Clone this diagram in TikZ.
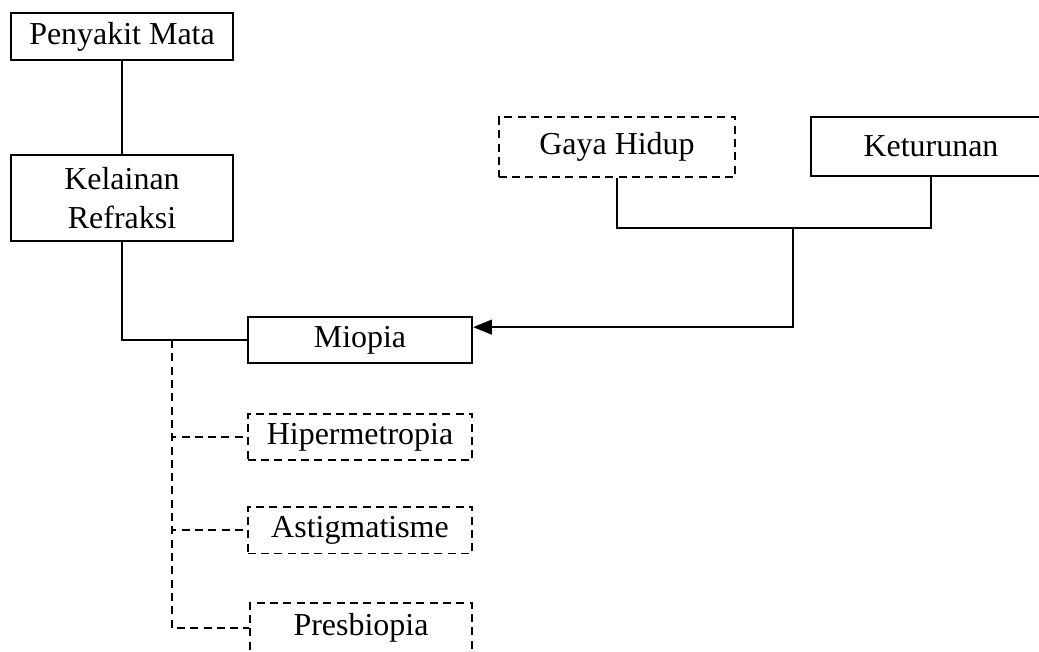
\documentclass[tikz,border=0pt]{standalone}
\usepackage{fontspec}
\setmainfont{Liberation Serif}
\usepackage{tikz}
\usetikzlibrary{arrows.meta,positioning}

\begin{document}
\begin{tikzpicture}[
    x=0.0132cm, y=-0.0132cm,
    line width=0.75pt,
    box/.style={rectangle, draw, line width=0.75pt, minimum width=2.93cm, minimum height=0.62cm, inner sep=0pt, align=center, font=\fontsize{12}{14.5}\selectfont},
    dbox/.style={box, dashed, dash pattern=on 3pt off 2pt},
    link/.style={draw, line width=0.75pt},
    dlink/.style={link, dash pattern=on 3pt off 2pt},
]
\useasboundingbox (0,0) rectangle (1039,651);
\clip (0,0) rectangle (1039,651);

% Left column
\node[box] (mata) at (122,36.5) {Penyakit Mata};
\node[box, minimum height=1.135cm] (refraksi) at (122,198) {Kelainan\\Refraksi};

% Kinds of refraction error
\node[box, minimum width=2.96cm, minimum height=0.61cm] (miopia) at (360,340) {Miopia};
\node[dbox, minimum width=2.96cm] (hiper) at (360,437) {Hipermetropia};
\node[dbox, minimum width=2.96cm] (astig) at (360,530) {Astigmatisme};
\node[dbox, minimum width=2.93cm, minimum height=0.66cm] (presbi) at (361,628) {Presbiopia};

% Causes
\node[dbox, minimum width=3.12cm, minimum height=0.79cm] (gaya) at (617,147) {Gaya Hidup};
\node[box, minimum width=3.16cm, minimum height=0.78cm] (turun) at (931,146.5) {Keturunan};

% Connectors
\draw[link] (mata) -- (refraksi);
\draw[link] (refraksi.south) |- (miopia.west);
\coordinate (cab) at (172,340);
\draw[dlink] (cab) |- (hiper.west);
\draw[dlink] (cab) |- (astig.west);
\draw[dlink] (cab) |- (presbi.west);

\coordinate (gabung) at (793,228);
\draw[link] (gaya.south) |- (gabung) -| (turun.south);
\draw[link, -{Triangle[length=7pt, width=5.5pt]}] (gabung) |- ([yshift=0.17cm]miopia.east);

\end{tikzpicture}
\end{document}
